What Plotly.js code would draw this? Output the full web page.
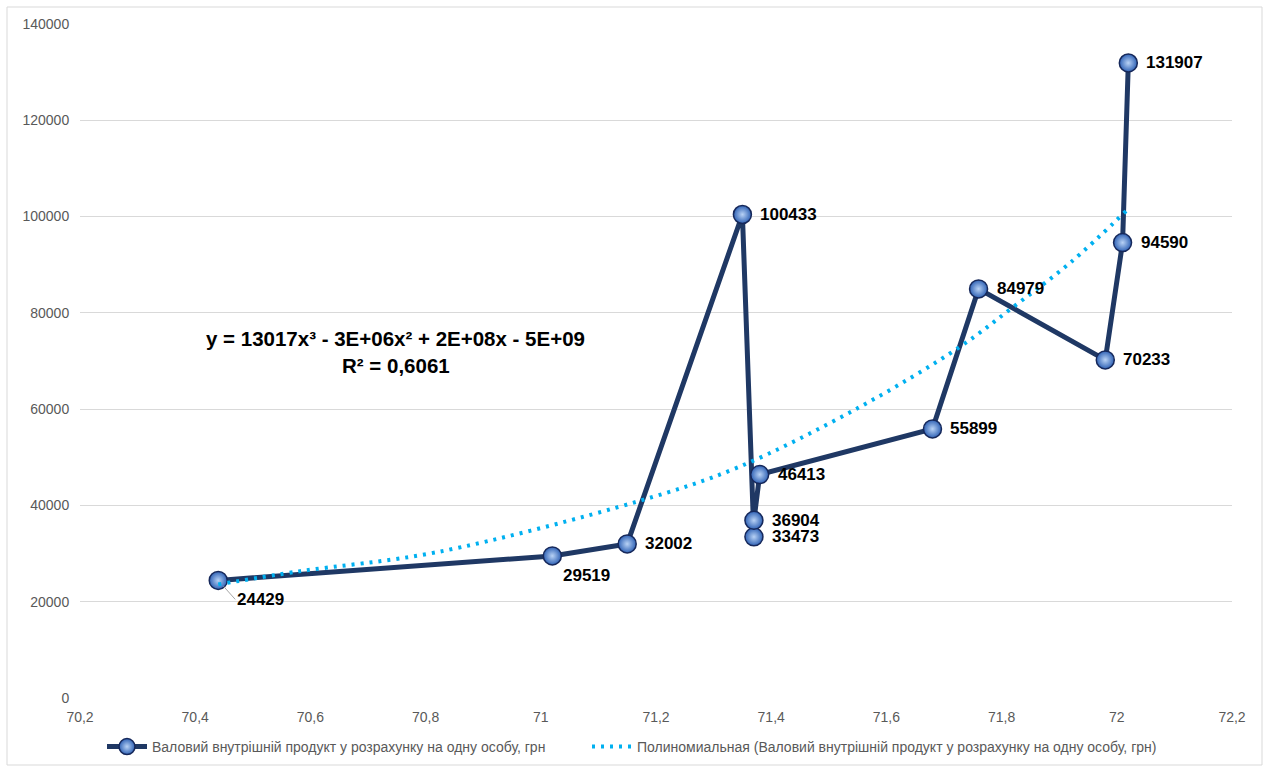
<!DOCTYPE html>
<html>
<head>
<meta charset="utf-8">
<script src="https://cdn.plot.ly/plotly-3.0.1.min.js"></script>
<style>
  html, body { margin: 0; padding: 0; background: #ffffff; }
  #chart { width: 1272px; height: 767px; }
</style>
</head>
<body>
<div id="chart"></div>
<script>
// ---- data ----
const lifeExp = [70.44, 71.02, 71.15, 71.35, 71.37, 71.37, 71.38, 71.68, 71.76, 71.98, 72.01, 72.02];
const gdpPerCapita = [24429, 29519, 32002, 100433, 33473, 36904, 46413, 55899, 84979, 70233, 94590, 131907];

// polynomial trendline as drawn in the picture
const trendX = [70.44, 70.58, 70.82, 71.17, 71.34, 71.553, 71.727, 71.82, 71.92, 72.02];
const trendY = [23600, 26300, 30300, 40900, 47800, 60400, 72900, 81200, 90500, 101600];

const xTickVals = [70.2, 70.4, 70.6, 70.8, 71.0, 71.2, 71.4, 71.6, 71.8, 72.0, 72.2];
const xTickText = ['70,2', '70,4', '70,6', '70,8', '71', '71,2', '71,4', '71,6', '71,8', '72', '72,2'];
const yTickVals = [0, 20000, 40000, 60000, 80000, 100000, 120000, 140000];
const yTickText = ['0', '20000', '40000', '60000', '80000', '100000', '120000', '140000'];

const seriesName = 'Валовий внутрішній продукт у розрахунку на одну особу, грн';
const trendName = 'Полиномиальная (Валовий внутрішній продукт у розрахунку на одну особу, грн)';
const equationText = 'y = 13017x³ - 3E+06x² + 2E+08x - 5E+09';
const r2Text = 'R² = 0,6061';

// ---- styling ----
const FONT = 'Liberation Sans, Arial, sans-serif';
const NAVY = '#1f3864';
const CYAN = '#00b0f0';

const traces = [
  {
    type: 'scatter', mode: 'lines+markers', name: seriesName,
    x: lifeExp, y: gdpPerCapita,
    line: { color: NAVY, width: 5 },
    marker: {
      size: 18, color: '#2f62b5',
      gradient: { type: 'radial', color: '#b8d2f5' },
      line: { color: '#16285a', width: 1.5 }
    },
    legend: 'legend',
    hoverinfo: 'x+y'
  },
  {
    type: 'scatter', mode: 'lines', name: trendName,
    x: trendX, y: trendY,
    line: { color: CYAN, width: 4, dash: '3px,6px', shape: 'spline', smoothing: 1 },
    legend: 'legend2',
    hoverinfo: 'skip'
  }
];

// value labels
const annotations = gdpPerCapita.map((v, i) => {
  const a = {
    x: lifeExp[i], y: v, xref: 'x', yref: 'y',
    text: String(v), showarrow: false,
    xanchor: 'left', yanchor: 'middle', xshift: 16, yshift: 0,
    font: { family: FONT, size: 17, color: '#000000', weight: 'bold' }
  };
  if (i === 0) {
    Object.assign(a, { showarrow: true, arrowhead: 0, arrowwidth: 1, arrowcolor: '#a6a6a6',
      ax: 17, ay: 19, standoff: 8, xanchor: 'left', yanchor: 'middle', xshift: 0 });
  }
  if (i === 1) {
    Object.assign(a, { xshift: 9, yshift: -20 });
  }
  return a;
});
annotations.push(
  { x: 0.2743, y: 0.534, xref: 'paper', yref: 'paper', text: equationText, showarrow: false,
    xanchor: 'center', yanchor: 'middle',
    font: { family: FONT, size: 20.5, color: '#000000', weight: 'bold' } },
  { x: 0.2743, y: 0.494, xref: 'paper', yref: 'paper', text: r2Text, showarrow: false,
    xanchor: 'center', yanchor: 'middle',
    font: { family: FONT, size: 20.5, color: '#000000', weight: 'bold' } }
);

const legendBase = {
  orientation: 'h', xref: 'container', yref: 'container',
  xanchor: 'left', y: 20 / 767, yanchor: 'middle',
  font: { family: FONT, size: 14, color: '#595959' },
  itemwidth: 40, bgcolor: 'rgba(0,0,0,0)'
};

const layout = {
  width: 1272, height: 767,
  margin: { l: 80, r: 40, t: 24, b: 69, pad: 0 },
  paper_bgcolor: '#ffffff', plot_bgcolor: '#ffffff',
  font: { family: FONT, size: 14, color: '#595959' },
  showlegend: true,
  legend: Object.assign({}, legendBase, { x: 102 / 1272 }),
  legend2: Object.assign({}, legendBase, { x: 587 / 1272 }),
  xaxis: {
    range: [70.2, 72.2], tickmode: 'array', tickvals: xTickVals, ticktext: xTickText,
    showgrid: false, zeroline: false, showline: false,
    ticks: 'outside', ticklen: 6, tickcolor: 'rgba(0,0,0,0)',
    tickfont: { family: FONT, size: 14, color: '#595959' }
  },
  yaxis: {
    range: [0, 140000], tickmode: 'array', tickvals: yTickVals, ticktext: yTickText,
    showgrid: true, gridcolor: '#d9d9d9', gridwidth: 1, zeroline: false, showline: false,
    ticks: 'outside', ticklen: 7, tickcolor: 'rgba(0,0,0,0)',
    tickfont: { family: FONT, size: 14, color: '#595959' }
  },
  annotations: annotations,
  shapes: [
    { type: 'rect', xref: 'paper', yref: 'paper',
      x0: (7 - 80) / 1152, x1: (1262 - 80) / 1152,
      y0: (698 - 765) / 674, y1: (698 - 7) / 674,
      line: { color: '#d9d9d9', width: 1 }, fillcolor: 'rgba(0,0,0,0)', layer: 'below' }
  ]
};

Plotly.newPlot('chart', traces, layout, { displayModeBar: false, staticPlot: true });
</script>
</body>
</html>
